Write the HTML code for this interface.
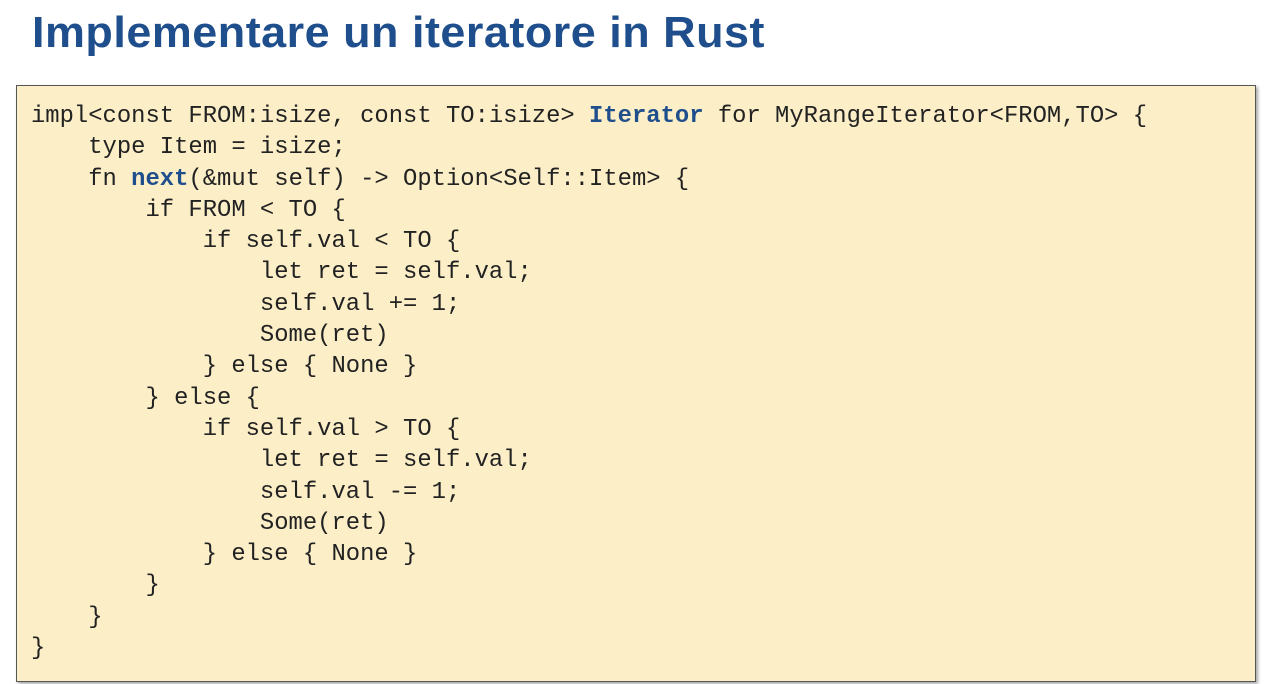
<!DOCTYPE html>
<html><head><meta charset="utf-8"><style>
html,body{margin:0;padding:0;background:#fff;width:1272px;height:684px;overflow:hidden;position:relative}
.box{position:absolute;left:16px;top:85px;width:1238px;height:595px;background:#fcefc8;border:1.5px solid #555;box-shadow:2px 2px 3px rgba(0,0,0,.35)}
pre{position:absolute;left:31px;top:101px;margin:0;font-family:"Liberation Mono",monospace;font-size:23.85px;line-height:31.3px;color:#222}
b{color:#1f4e8c}
</style></head><body>
<svg style="position:absolute;left:0;top:0" width="1272" height="80"><text x="32" y="47" textLength="733" lengthAdjust="spacingAndGlyphs" font-family="Liberation Sans, sans-serif" font-weight="bold" font-size="44" letter-spacing="0.5" fill="#1f4e8c">Implementare un iteratore in Rust</text></svg>
<div class="box"></div>
<pre>impl&lt;const FROM:isize, const TO:isize&gt; <b>Iterator</b> for MyRangeIterator&lt;FROM,TO&gt; {
    type Item = isize;
    fn <b>next</b>(&amp;mut self) -&gt; Option&lt;Self::Item&gt; {
        if FROM &lt; TO {
            if self.val &lt; TO {
                let ret = self.val;
                self.val += 1;
                Some(ret)
            } else { None }
        } else {
            if self.val &gt; TO {
                let ret = self.val;
                self.val -= 1;
                Some(ret)
            } else { None }
        }
    }
}</pre>
</body></html>
